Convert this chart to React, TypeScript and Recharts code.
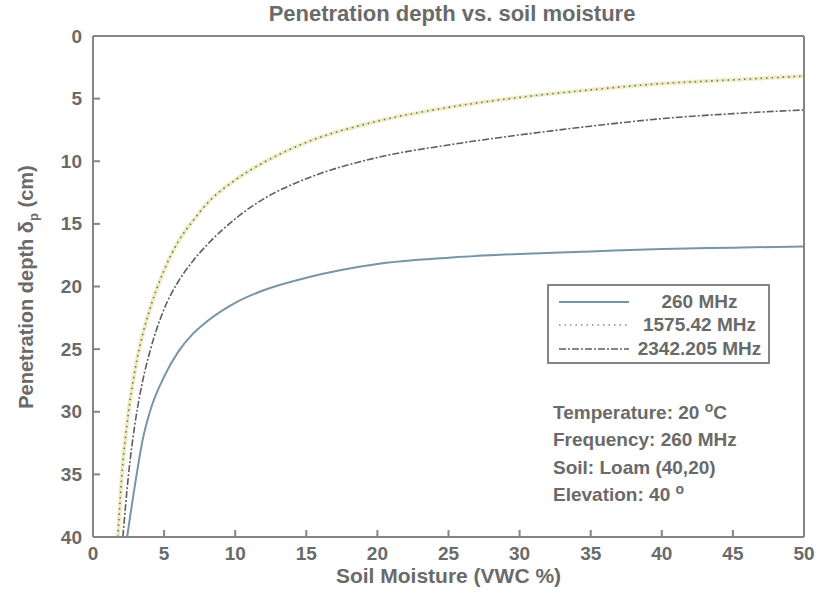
import { LineChart, Line, XAxis, YAxis } from "recharts";

// soil moisture (VWC %) and penetration depth (cm)
const moisture260 = [2.4, 3, 3.5, 4, 5, 6, 7, 8, 10, 12, 15, 20, 25, 30, 35, 40, 45, 50];
const depth260 = [40, 35.5, 32.2, 30, 27.2, 25.2, 23.8, 22.8, 21.3, 20.3, 19.3, 18.2, 17.7, 17.4, 17.2, 17.0, 16.9, 16.8];

const moisture1575 = [1.75, 2, 2.5, 3, 3.5, 4, 5, 6, 7, 8, 10, 12, 15, 20, 25, 30, 35, 40, 45, 50];
const depth1575 = [40, 35.5, 30, 26.4, 23.8, 21.8, 18.7, 16.4, 14.8, 13.4, 11.5, 10.1, 8.5, 6.8, 5.7, 4.9, 4.3, 3.8, 3.5, 3.2];

const moisture2342 = [2.1, 2.5, 3, 3.5, 4, 5, 6, 7, 8, 10, 12, 15, 20, 25, 30, 35, 40, 45, 50];
const depth2342 = [40, 35, 30.6, 27.5, 25.2, 21.8, 19.6, 18.0, 16.7, 14.6, 13.0, 11.4, 9.7, 8.7, 7.9, 7.2, 6.6, 6.2, 5.9];

const xTicks = [0, 5, 10, 15, 20, 25, 30, 35, 40, 45, 50];
const yTicks = [0, 5, 10, 15, 20, 25, 30, 35, 40];

const seriesNames = ["260 MHz", "1575.42 MHz", "2342.205 MHz"];
const notes = ["Temperature: 20 ", "Frequency: 260 MHz", "Soil: Loam (40,20)", "Elevation: 40 "];

const toPoints = (xs: number[], ys: number[]) => xs.map((x, i) => ({ x, d: ys[i] }));
const data260 = toPoints(moisture260, depth260);
const data1575 = toPoints(moisture1575, depth1575);
const data2342 = toPoints(moisture2342, depth2342);

const AXIS = "#858585";
const TEXT = "#6a6a6a";
const FONT = "'Liberation Sans', Arial, Helvetica, sans-serif";
const TICK_LEN = 7;

const txt = { fontFamily: FONT, fontWeight: 700, fill: TEXT, fontSize: 19 };

function BottomTick({ x, y, payload }: any) {
  return (
    <g>
      <line x1={x} x2={x} y1={y - 16} y2={y - 16 - TICK_LEN} stroke={AXIS} strokeWidth={2} />
      <text x={x} y={y} dominantBaseline="central" textAnchor="middle" {...txt}>{payload.value}</text>
    </g>
  );
}

function LeftTick({ x, y, payload }: any) {
  return (
    <g>
      <line x1={x + 11} x2={x + 11 + TICK_LEN} y1={y} y2={y} stroke={AXIS} strokeWidth={2} />
      <text x={x} y={y} dominantBaseline="central" textAnchor="end" {...txt}>{payload.value}</text>
    </g>
  );
}

function TopTick({ x, y }: any) {
  return <line x1={x} x2={x} y1={y} y2={y + TICK_LEN} stroke={AXIS} strokeWidth={2} />;
}

function RightTick({ x, y }: any) {
  return <line x1={x} x2={x - TICK_LEN} y1={y} y2={y} stroke={AXIS} strokeWidth={2} />;
}

const legendStyles = [
  { stroke: "#7596a8", dash: undefined, width: 2 },
  { stroke: "#8a8a7a", dash: "1.5 4", width: 1.6 },
  { stroke: "#5e5e5e", dash: "7 2 2 2", width: 1.6 },
];

function LegendBox() {
  return (
    <div
      style={{
        position: "absolute",
        left: 547,
        top: 284,
        width: 223,
        height: 80,
        border: `2px solid ${AXIS}`,
        background: "#fff",
        boxSizing: "border-box",
        paddingTop: 4,
        fontFamily: FONT,
        fontWeight: 700,
        fontSize: 19,
        color: TEXT,
      }}
    >
      {seriesNames.map((name, i) => (
        <div key={name} style={{ display: "flex", alignItems: "center", height: 23.5 }}>
          <svg width={82} height={10} style={{ flex: "none" }}>
            <line
              x1={10}
              x2={80}
              y1={5}
              y2={5}
              stroke={legendStyles[i].stroke}
              strokeWidth={legendStyles[i].width}
              strokeDasharray={legendStyles[i].dash}
            />
          </svg>
          <span style={{ flex: 1, textAlign: "center", whiteSpace: "nowrap" }}>{name}</span>
        </div>
      ))}
    </div>
  );
}

export default function App() {
  return (
    <div style={{ position: "absolute", left: 0, top: 0, width: 824, height: 600, background: "#fff" }}>
      <LineChart width={824} height={600} margin={{ top: 35, right: 19, bottom: 0, left: 0 }}>
        <XAxis
          dataKey="x"
          type="number"
          domain={[0, 50]}
          ticks={xTicks}
          allowDataOverflow
          height={63}
          tickSize={0}
          tickMargin={16}
          tick={<BottomTick />}
          axisLine={{ stroke: AXIS, strokeWidth: 2 }}
        />
        <XAxis
          xAxisId="top"
          orientation="top"
          dataKey="x"
          type="number"
          domain={[0, 50]}
          ticks={xTicks}
          height={1}
          tickSize={0}
          tickMargin={0}
          tick={<TopTick />}
          axisLine={{ stroke: AXIS, strokeWidth: 2 }}
        />
        <YAxis
          type="number"
          domain={[0, 40]}
          ticks={yTicks}
          reversed
          width={93}
          tickSize={0}
          tickMargin={11}
          tick={<LeftTick />}
          axisLine={{ stroke: AXIS, strokeWidth: 2 }}
        />
        <YAxis
          yAxisId="right"
          orientation="right"
          type="number"
          domain={[0, 40]}
          ticks={yTicks}
          reversed
          width={1}
          tickSize={0}
          tickMargin={0}
          tick={<RightTick />}
          axisLine={{ stroke: AXIS, strokeWidth: 2 }}
        />
        <Line
          data={data260}
          dataKey="d"
          name={seriesNames[0]}
          type="monotone"
          stroke="#7596a8"
          strokeWidth={2}
          dot={false}
          isAnimationActive={false}
        />
        {/* yellowish smear under the dotted curve */}
        <Line
          data={data1575}
          dataKey="d"
          legendType="none"
          type="monotone"
          stroke="#ebe8b0"
          strokeWidth={4}
          strokeOpacity={0.8}
          dot={false}
          isAnimationActive={false}
        />
        <Line
          data={data1575}
          dataKey="d"
          name={seriesNames[1]}
          type="monotone"
          stroke="#707070"
          strokeWidth={1.6}
          strokeDasharray="1.5 4"
          dot={false}
          isAnimationActive={false}
        />
        <Line
          data={data2342}
          dataKey="d"
          name={seriesNames[2]}
          type="monotone"
          stroke="#5e5e5e"
          strokeWidth={1.6}
          strokeDasharray="7 2 2 2"
          dot={false}
          isAnimationActive={false}
        />
      </LineChart>

      <LegendBox />

      {/* title */}
      <div
        style={{
          position: "absolute",
          left: 93,
          width: 718,
          top: 1,
          textAlign: "center",
          fontFamily: FONT,
          fontWeight: 700,
          fontSize: 22,
          color: TEXT,
        }}
      >
        Penetration depth vs. soil moisture
      </div>

      {/* x label */}
      <div
        style={{
          position: "absolute",
          left: 93,
          width: 711,
          top: 564,
          textAlign: "center",
          fontFamily: FONT,
          fontWeight: 700,
          fontSize: 21,
          color: TEXT,
        }}
      >
        Soil Moisture (VWC %)
      </div>

      {/* y label */}
      <div
        style={{
          position: "absolute",
          left: 28,
          top: 287,
          transform: "translate(-50%, -50%) rotate(-90deg)",
          whiteSpace: "nowrap",
          fontFamily: FONT,
          fontWeight: 700,
          fontSize: 20,
          color: TEXT,
        }}
      >
        Penetration depth δ<sub style={{ fontSize: 13 }}>p</sub> (cm)
      </div>

      {/* condition notes */}
      <div
        style={{
          position: "absolute",
          left: 553,
          top: 399,
          fontFamily: FONT,
          fontWeight: 700,
          fontSize: 19,
          lineHeight: "27.3px",
          color: TEXT,
          whiteSpace: "nowrap",
        }}
      >
        <div>
          {notes[0]}
          <sup style={{ fontSize: 14, lineHeight: 0 }}>o</sup>C
        </div>
        <div>{notes[1]}</div>
        <div>{notes[2]}</div>
        <div>
          {notes[3]}
          <sup style={{ fontSize: 14, lineHeight: 0 }}>o</sup>
        </div>
      </div>
    </div>
  );
}
